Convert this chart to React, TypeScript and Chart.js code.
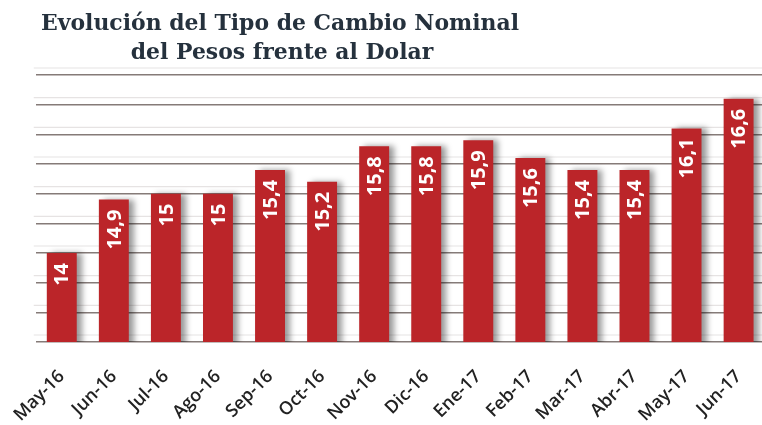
import React, { useEffect, useRef } from "react";
import { Chart, registerables } from "chart.js";

Chart.register(...registerables);

const categories = ["May-16", "Jun-16", "Jul-16", "Ago-16", "Sep-16", "Oct-16", "Nov-16", "Dic-16", "Ene-17", "Feb-17", "Mar-17", "Abr-17", "May-17", "Jun-17"];
const values = [14, 14.9, 15, 15, 15.4, 15.2, 15.8, 15.8, 15.9, 15.6, 15.4, 15.4, 16.1, 16.6];
const valueLabels = ["14", "14,9", "15", "15", "15,4", "15,2", "15,8", "15,8", "15,9", "15,6", "15,4", "15,4", "16,1", "16,6"];
const titleLines = ["Evolución del Tipo de Cambio Nominal", "del Pesos frente al Dolar"];
const yMin = 12.5;
const yMax = 17;
const yStep = 0.5;

const decorPlugin = {
  id: "decor",
  beforeDatasetsDraw(chart: any) {
    const ctx = chart.ctx;
    const area = chart.chartArea;
    const ys = chart.scales.y;
    ctx.save();
    ctx.strokeStyle = "#e6e3e3";
    ctx.lineWidth = 1.2;
    ys.ticks.forEach((t: any) => {
      const y = ys.getPixelForValue(t.value) - 7;
      ctx.beginPath();
      ctx.moveTo(area.left - 2, y);
      ctx.lineTo(area.right, y);
      ctx.stroke();
    });
    ctx.restore();
    ctx.save();
    ctx.shadowColor = "rgba(0,0,0,0.4)";
    ctx.shadowOffsetX = 5;
    ctx.shadowOffsetY = 0;
    ctx.shadowBlur = 6;
  },
  afterDatasetsDraw(chart: any) {
    chart.ctx.restore();
  },
  afterDraw(chart: any) {
    const ctx = chart.ctx;
    const meta = chart.getDatasetMeta(0);
    ctx.save();
    ctx.fillStyle = "#ffffff";
    ctx.font = "bold 20px 'Open Sans'";
    ctx.textAlign = "right";
    ctx.textBaseline = "middle";
    meta.data.forEach((bar: any, i: number) => {
      ctx.save();
      ctx.translate(bar.x + 1, bar.y + 10);
      ctx.rotate(-Math.PI / 2);
      ctx.fillText(valueLabels[i], 0, 0);
      ctx.restore();
    });
    ctx.restore();

    // title
    ctx.save();
    ctx.fillStyle = "#25313d";
    ctx.textAlign = "center";
    ctx.textBaseline = "alphabetic";
    ctx.font = "bold 23px 'DejaVu Serif'";
    const w = ctx.measureText(titleLines[0]).width;
    const sx = 478 / w;
    ctx.save();
    ctx.translate(280, 30);
    ctx.scale(sx, 1);
    ctx.fillText(titleLines[0], 0, 0);
    ctx.restore();
    ctx.save();
    ctx.translate(282, 59);
    ctx.scale(sx, 1);
    ctx.fillText(titleLines[1], 0, 0);
    ctx.restore();
    ctx.restore();
  },
};

export default function App() {
  const ref = useRef<HTMLCanvasElement | null>(null);
  useEffect(() => {
    if (!ref.current) return;
    const chart = new Chart(ref.current, {
      type: "bar",
      data: {
        labels: categories,
        datasets: [
          {
            data: values,
            backgroundColor: "#bb2529",
            borderWidth: 0,
            barPercentage: 0.575,
            categoryPercentage: 1,
          },
        ],
      },
      options: {
        responsive: false,
        animation: false,
        layout: { padding: { top: 75, left: 35, right: 4, bottom: 0 } },
        plugins: { legend: { display: false }, tooltip: { enabled: false }, title: { display: false } },
        scales: {
          x: {
            grid: { display: false },
            border: { display: false },
            ticks: {
              maxRotation: 45,
              minRotation: 45,
              padding: 16,
              color: "#222222",
              font: { family: "'Open Sans'", size: 18, weight: "600" },
            },
            afterFit(scale: any) {
              scale.height = 83;
            },
          },
          y: {
            min: yMin,
            max: yMax,
            ticks: { display: false, stepSize: yStep },
            border: { display: false },
            grid: { color: "#857b78", lineWidth: 1.5, drawTicks: false },
            afterFit(scale: any) {
              scale.width = 0;
            },
          },
        },
      },
      plugins: [decorPlugin],
    });
    return () => chart.destroy();
  }, []);
  return (
    <div style={{ position: "absolute", left: 0, top: 0, width: 762, height: 425, overflow: "hidden", background: "#fff" }}>
      <canvas ref={ref} width={770} height={425} style={{ display: "block" }} />
    </div>
  );
}
